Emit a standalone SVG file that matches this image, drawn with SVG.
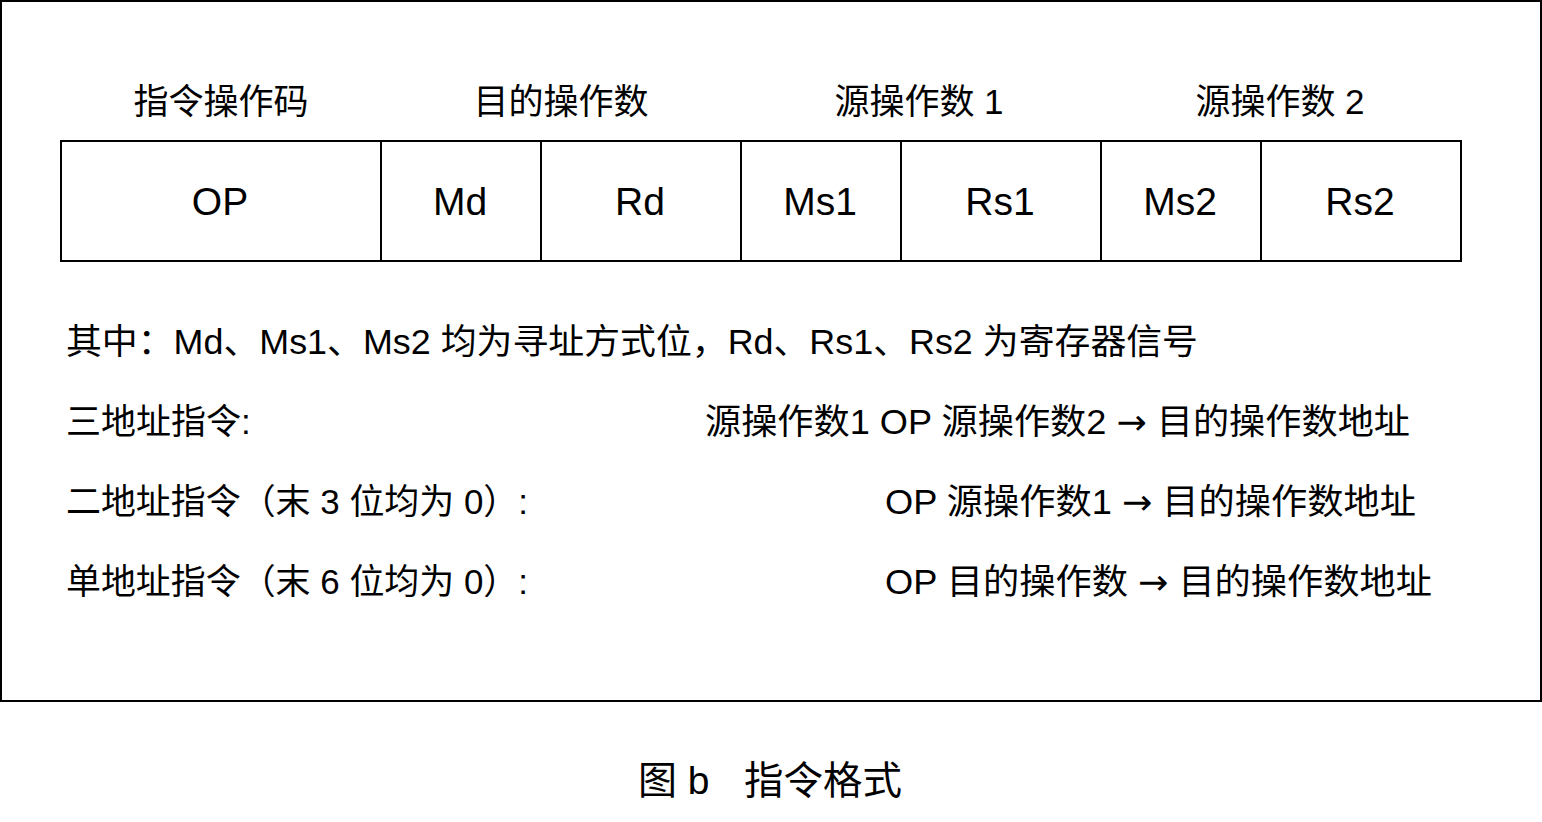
<svg xmlns="http://www.w3.org/2000/svg" width="1542" height="822" viewBox="0 0 1542 822">
<style>
text{font-family:"Liberation Sans","Noto Sans CJK SC",sans-serif;fill:#000;font-size:35px}
.c{text-anchor:middle}
.t{font-size:39px}
.a{font-family:"DejaVu Sans",sans-serif}
.cell{fill:#fff;stroke:#000;stroke-width:2}
</style>
<rect x="0" y="0" width="1542" height="822" fill="#fff"/>
<rect x="1" y="1" width="1540" height="700" fill="#fff" stroke="#000" stroke-width="2"/>
<g id="headers">
<text class="c" x="221" y="114">指令操作码</text>
<text class="c" x="561" y="114">目的操作数</text>
<text class="c" x="919" y="114">源操作数 1</text>
<text class="c" x="1280" y="114">源操作数 2</text>
</g>
<g id="op"><rect class="cell" x="61" y="141" width="320" height="120"/><text class="c t" x="220" y="215">OP</text></g>
<g id="md"><rect class="cell" x="381" y="141" width="160" height="120"/><text class="c t" x="460" y="215">Md</text></g>
<g id="rd"><rect class="cell" x="541" y="141" width="200" height="120"/><text class="c t" x="640" y="215">Rd</text></g>
<g id="ms1"><rect class="cell" x="741" y="141" width="160" height="120"/><text class="c t" x="820" y="215">Ms1</text></g>
<g id="rs1"><rect class="cell" x="901" y="141" width="200" height="120"/><text class="c t" x="1000" y="215">Rs1</text></g>
<g id="ms2"><rect class="cell" x="1101" y="141" width="160" height="120"/><text class="c t" x="1180" y="215">Ms2</text></g>
<g id="rs2"><rect class="cell" x="1261" y="141" width="200" height="120"/><text class="c t" x="1360" y="215">Rs2</text></g>
<g id="notes">
<text x="66" y="354" textLength="1132" lengthAdjust="spacingAndGlyphs">其中：Md、Ms1、Ms2 均为寻址方式位，Rd、Rs1、Rs2 为寄存器信号</text>
<text x="66" y="434">三地址指令:</text>
<text x="705" y="434" textLength="705" lengthAdjust="spacingAndGlyphs">源操作数1 OP 源操作数2 <tspan class="a">→</tspan> 目的操作数地址</text>
<text x="66" y="514" textLength="462" lengthAdjust="spacingAndGlyphs">二地址指令（末 3 位均为 0）:</text>
<text x="885" y="514" textLength="531" lengthAdjust="spacingAndGlyphs">OP 源操作数1 <tspan class="a">→</tspan> 目的操作数地址</text>
<text x="66" y="594" textLength="462" lengthAdjust="spacingAndGlyphs">单地址指令（末 6 位均为 0）:</text>
<text x="885" y="594" textLength="547" lengthAdjust="spacingAndGlyphs">OP 目的操作数 <tspan class="a">→</tspan> 目的操作数地址</text>
</g>
<g id="caption">
<text class="t" x="638" y="794">图 b</text>
<text class="t" x="744" y="794" textLength="158" lengthAdjust="spacingAndGlyphs">指令格式</text>
</g>
<g id="connectors"/>
</svg>
